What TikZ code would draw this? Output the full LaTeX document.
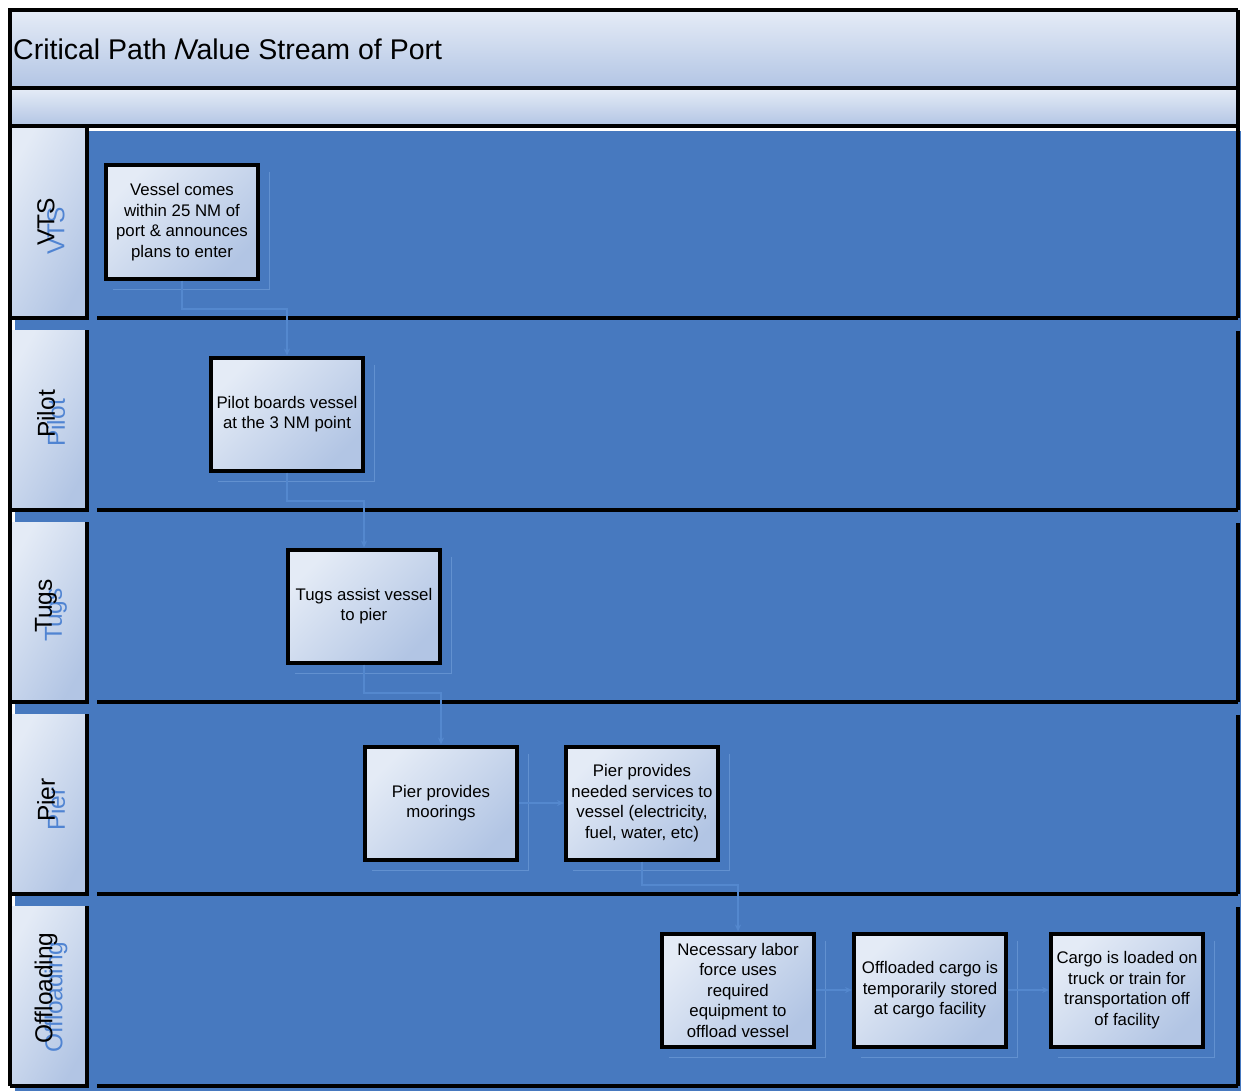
\documentclass[tikz,border=0pt]{standalone}
\usepackage{fontspec}
\setmainfont{Liberation Sans}
\usetikzlibrary{arrows.meta}
\definecolor{lanebl}{RGB}{71,121,191}
\definecolor{conbl}{RGB}{84,136,206}
\definecolor{shbl}{RGB}{98,145,208}
\definecolor{txtbl}{RGB}{80,132,210}
\definecolor{gl}{RGB}{228,235,246}
\definecolor{gd}{RGB}{178,197,228}
\begin{document}
\begin{tikzpicture}[x=1pt,y=-1pt,
  stepbox/.style={draw=black, line width=4pt, minimum width=152pt, minimum height=113pt,
    inner sep=1pt, align=center, font=\fontsize{16.8}{20.5}\selectfont,
    top color=gl, bottom color=gd, shading angle=45},
  lanelab/.style={rotate=90, font=\fontsize{24.5}{26}\selectfont, inner sep=0pt},
  frame/.style={draw=black, line width=3.5pt},
  cellfill/.style={top color=gl, bottom color=gd, shading angle=60},
  barfill/.style={top color=gl!95!white, bottom color=gd},
  conn/.style={draw=conbl, line width=1.2pt, -{Stealth[length=7pt,width=6pt]}},
  shline/.style={draw=shbl, line width=0.6pt}]
\useasboundingbox (0,0) rectangle (1241,1091);
\fill[white] (0,0) rectangle (1241,1091);
% blue lane area
\fill[lanebl] (87,131) rectangle (1241,1091);
\fill[lanebl] (15,318) rectangle (87,1091);
% title bars
\shade[barfill] (10,10) rectangle (1238,88);
\shade[barfill] (10,88) rectangle (1238,126);
\node[anchor=west, font=\fontsize{28.5}{30}\selectfont, inner sep=0pt] (title) at (13,49) {Critical Path /\kern-3pt Value Stream of Port};
% label cells
\shade[cellfill] (10,126) rectangle (87,318);
\shade[cellfill] (10,330) rectangle (87,510);
\shade[cellfill] (10,522) rectangle (87,702);
\shade[cellfill] (10,714) rectangle (87,894);
\shade[cellfill] (10,906) rectangle (87,1086);
\foreach \t/\b in {126/318,330/510,522/702,714/894,906/1086}{
  \draw[frame] (87,\t) -- (87,\b) -- (10,\b);
  \draw[frame] (97,\b) -- (1238,\b);
}
\foreach \t/\b in {10/318,331/510,523/702,715/894,907/1086}{
  \draw[frame] (1238,\t) -- (1238,\b);
}
\draw[frame] (10,1086) -- (10,10) -- (1238,10);
\draw[frame] (10,88) -- (1238,88);
\draw[frame] (10,126) -- (1238,126);
% lane labels
\node[lanelab, text=txtbl] (vtsS) at (56,231) {VTS};
\node[lanelab] (vts) at (46,222) {VTS};
\node[lanelab, text=txtbl] (pilotS) at (56,423) {Pilot};
\node[lanelab] (pilot) at (46,414) {Pilot};
\node[lanelab, text=txtbl] (tugsS) at (56,615) {Tugs};
\node[lanelab] (tugs) at (46,606) {Tugs};
\node[lanelab, text=txtbl] (pierS) at (56,809) {Pier};
\node[lanelab] (pier) at (46,800) {Pier};
\node[lanelab, text=txtbl] (offS) at (56,997) {Offloading};
\node[lanelab] (off) at (46,988) {Offloading};
% boxes
\node[stepbox] (b1) at (182,222) {Vessel comes\\within 25 NM of\\port \& announces\\plans to enter};
\node[stepbox] (b2) at (287,414) {Pilot boards vessel\\at the 3 NM point};
\node[stepbox] (b3) at (364,606) {Tugs assist vessel\\to pier};
\node[stepbox] (b4) at (441,803) {Pier provides\\moorings};
\node[stepbox] (b5) at (642,803) {Pier provides\\needed services to\\vessel (electricity,\\fuel, water, etc)};
\node[stepbox] (b6) at (738,990) {Necessary labor\\force uses\\required\\equipment to\\offload vessel};
\node[stepbox] (b7) at (930,990) {Offloaded cargo is\\temporarily stored\\at cargo facility};
\node[stepbox] (b8) at (1127,990) {Cargo is loaded on\\truck or train for\\transportation off\\of facility};
% faint shadow outlines
\foreach \n in {b1,b2,b3,b4,b5,b6,b7,b8}{
  \draw[shline] ([shift={(9,9)}]\n.north east) -- ([shift={(9,9)}]\n.south east) -- ([shift={(9,9)}]\n.south west);
}
% connectors
\coordinate (k1) at (182,309);
\coordinate (k2) at (287,501);
\coordinate (k3) at (364,693);
\coordinate (k5) at (642,885);
\draw[conn] (b1.south) -- (k1) -| (b2.north);
\draw[conn] (b2.south) -- (k2) -| (b3.north);
\draw[conn] (b3.south) -- (k3) -| (b4.north);
\draw[conn] (b4.east) -- (b5.west);
\draw[conn] (b5.south) -- (k5) -| (b6.north);
\draw[conn] (b6.east) -- (b7.west);
\draw[conn] (b7.east) -- (b8.west);
\end{tikzpicture}
\end{document}
